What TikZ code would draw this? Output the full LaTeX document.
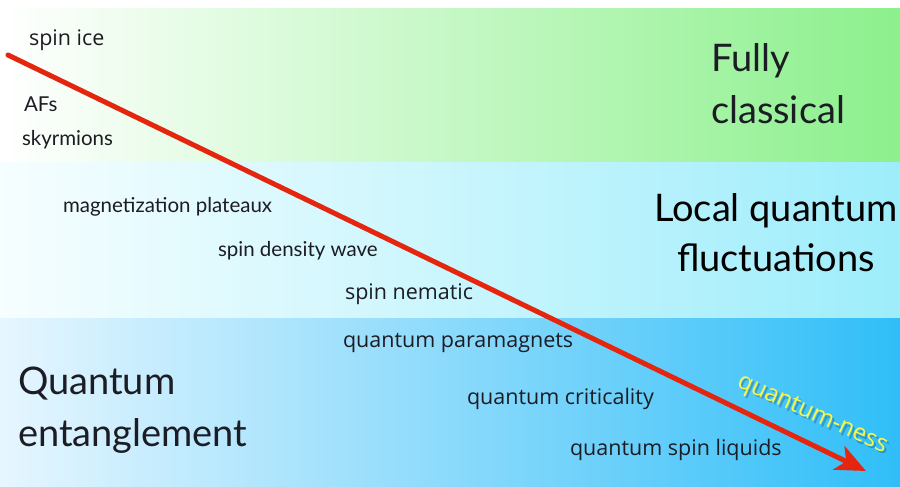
\documentclass[tikz,border=0pt]{standalone}
\usepackage{fontspec}
\setmainfont{Lato}
\newfontfamily\tagfont{Open Sans}
\usepackage{xcolor}
\usetikzlibrary{arrows.meta}
\definecolor{ink}{HTML}{1C1C24}
\definecolor{classleft}{HTML}{FFFFFF}
\definecolor{classright}{HTML}{8CF08C}
\definecolor{localleft}{HTML}{F6FEFF}
\definecolor{localright}{HTML}{9EEDFB}
\definecolor{entleft}{HTML}{E6F6FF}
\definecolor{entright}{HTML}{30BEF8}
\definecolor{arrowred}{HTML}{E4260E}
\definecolor{nessyellow}{HTML}{F8F84A}
\tikzset{
  band/.style     = {draw=none},
  phase/.style    = {font=\fontsize{20.5}{24}\selectfont\color{ink}, anchor=west, inner sep=0pt, outer sep=0pt},
  phaseq/.style   = {font=\tagfont\fontsize{21.5}{25}\selectfont\color{ink}, anchor=west, inner sep=0pt, outer sep=0pt},
  regime/.style   = {font=\fontsize{38}{52}\selectfont\color{ink}, inner sep=0pt, outer sep=0pt},
  ness/.style     = {-{Stealth[length=30pt,width=26pt,inset=8pt]}, draw=arrowred, line width=5pt},
  nesslab/.style  = {font=\tagfont\fontsize{24}{28}\selectfont, inner sep=0pt, rotate=-24.3},
}
\begin{document}
\begin{tikzpicture}[x=1pt,y=-1pt]
\path[use as bounding box] (0,0) rectangle (900,487);

% ---------- the three bands ---------------------------------------------
\shade[band, left color=classleft, right color=classright] (0,9)   rectangle (900,162);
\shade[band, left color=localleft, right color=localright] (0,162) rectangle (900,318);
\shade[band, left color=entleft,   right color=entright]   (0,318) rectangle (900,486);

% regimes
\node[regime, align=left, anchor=north west] (classical) at (711,44)
  {Fully\\classical};
\node[regime, align=center, anchor=north, font=\fontsize{38}{50}\selectfont] (local) at (776,194)
  {Local quantum\\fluctuations};
\node[regime, align=left, anchor=north west] (entangled) at (18,366.5)
  {Quantum\\entanglement};

% ---------- phases along the way ----------------------------------------
\node[phaseq] (spinice)  at (29,40)   {spin ice};
\node[phase]  (afs)      at (24,104)  {AFs};
\node[phase]  (skyrm)    at (22,140)  {skyrmions};
\node[phase]  (plateaux) at (63,207)  {magnetization plateaux};
\node[phase]  (sdw)      at (218,251) {spin density wave};
\node[phaseq] (nematic)  at (345,294) {spin nematic};
\node[phaseq] (paramag)  at (343,343) {quantum paramagnets};
\node[phaseq] (critical) at (467,399) {quantum criticality};
\node[phaseq] (qsl)      at (570,450) {quantum spin liquids};

% ---------- the arrow ---------------------------------------------------
\coordinate (classic) at (8,55);
\coordinate (quantum) at (866,471);
\draw[ness, line cap=round] (classic) -- (quantum);

\node[nesslab, text=black, opacity=0.22] at (814,417.5) {quantum-ness};
\node[nesslab, text=nessyellow] (nesslabel) at (812,415) {quantum-ness};

\end{tikzpicture}
\end{document}
